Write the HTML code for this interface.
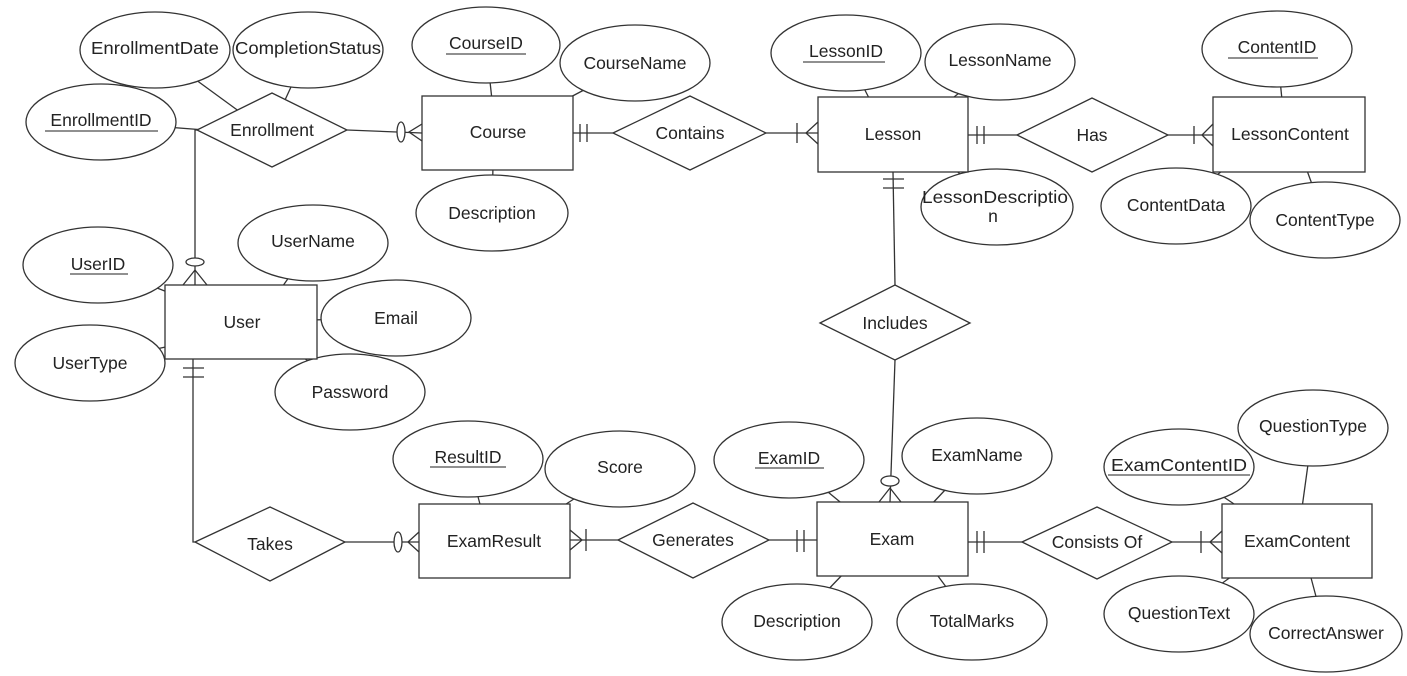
<!DOCTYPE html>
<html><head><meta charset="utf-8"><style>
html,body{margin:0;padding:0;background:#fff;width:1407px;height:676px;overflow:hidden}
svg{display:block}
text{font-family:"Liberation Sans",Arial,sans-serif;font-size:17.5px;fill:#222;text-anchor:middle;dominant-baseline:central}
</style></head><body>
<svg width="1407" height="676" viewBox="0 0 1407 676" xmlns="http://www.w3.org/2000/svg">
<g stroke="#333" stroke-width="1.3" fill="none">
<line x1="155" y1="50" x2="240" y2="112"/>
<line x1="308" y1="50" x2="285" y2="100"/>
<line x1="101" y1="122" x2="205" y2="130"/>
<line x1="486" y1="45" x2="492" y2="100"/>
<line x1="635" y1="63" x2="565" y2="100"/>
<line x1="492" y1="213" x2="493" y2="165"/>
<line x1="846" y1="53" x2="870" y2="100"/>
<line x1="1000" y1="62" x2="950" y2="100"/>
<line x1="997" y1="207" x2="950" y2="165"/>
<line x1="1277" y1="49" x2="1282" y2="100"/>
<line x1="1176" y1="206" x2="1230" y2="165"/>
<line x1="1325" y1="220" x2="1305" y2="165"/>
<line x1="313" y1="243" x2="280" y2="290"/>
<line x1="98" y1="265" x2="175" y2="295"/>
<line x1="396" y1="318" x2="310" y2="320"/>
<line x1="90" y1="363" x2="175" y2="345"/>
<line x1="350" y1="392" x2="300" y2="355"/>
<line x1="468" y1="459" x2="481" y2="508"/>
<line x1="620" y1="469" x2="560" y2="508"/>
<line x1="789" y1="460" x2="845" y2="506"/>
<line x1="977" y1="456" x2="930" y2="506"/>
<line x1="1179" y1="467" x2="1240" y2="508"/>
<line x1="1313" y1="428" x2="1302" y2="508"/>
<line x1="797" y1="622" x2="845" y2="572"/>
<line x1="972" y1="622" x2="935" y2="572"/>
<line x1="1179" y1="614" x2="1235" y2="574"/>
<line x1="1326" y1="634" x2="1310" y2="574"/>
<line x1="347" y1="130" x2="422" y2="133"/>
<polyline points="197,130 195,130 195,285"/>
<line x1="573" y1="133" x2="613" y2="133"/>
<line x1="766" y1="133" x2="818" y2="133"/>
<line x1="968" y1="135" x2="1017" y2="135"/>
<line x1="1168" y1="135" x2="1213" y2="135"/>
<line x1="893" y1="172" x2="895" y2="285"/>
<line x1="895" y1="360" x2="890" y2="502"/>
<polyline points="193,359 193,542 195,542"/>
<line x1="345" y1="542" x2="419" y2="542"/>
<line x1="570" y1="540" x2="618" y2="540"/>
<line x1="769" y1="540" x2="817" y2="540"/>
<line x1="968" y1="542" x2="1022" y2="542"/>
<line x1="1172" y1="542" x2="1222" y2="542"/>
<ellipse cx="401" cy="132" rx="4" ry="10" fill="#fff"/>
<polyline points="422,124 409,132 422,141"/>
<ellipse cx="195" cy="262" rx="9" ry="4" fill="#fff"/>
<polyline points="183,285 195,270 207,285"/>
<line x1="580" y1="124" x2="580" y2="142"/><line x1="587" y1="124" x2="587" y2="142"/>
<line x1="797" y1="123" x2="797" y2="143"/>
<polyline points="818,122 806,133 818,144"/>
<line x1="977" y1="126" x2="977" y2="144"/><line x1="984" y1="126" x2="984" y2="144"/>
<line x1="1194" y1="126" x2="1194" y2="144"/>
<polyline points="1213,124 1202,135 1213,146"/>
<line x1="883" y1="179" x2="904" y2="179"/><line x1="883" y1="188" x2="904" y2="188"/>
<ellipse cx="890" cy="481" rx="9" ry="5" fill="#fff"/>
<polyline points="879,502 890,488 901,502"/>
<line x1="183" y1="368" x2="204" y2="368"/><line x1="183" y1="377" x2="204" y2="377"/>
<ellipse cx="398" cy="542" rx="4" ry="10" fill="#fff"/>
<polyline points="419,532 408,542 419,552"/>
<polyline points="570,530 582,540 570,550"/>
<line x1="586" y1="529" x2="586" y2="551"/>
<line x1="797" y1="530" x2="797" y2="552"/><line x1="804" y1="530" x2="804" y2="552"/>
<line x1="977" y1="531" x2="977" y2="553"/><line x1="984" y1="531" x2="984" y2="553"/>
<line x1="1201" y1="531" x2="1201" y2="553"/>
<polyline points="1222,531 1210,542 1222,553"/>
</g>
<g stroke="#333" stroke-width="1.3" fill="#fff">
<ellipse cx="155" cy="50" rx="75" ry="38"/>
<ellipse cx="308" cy="50" rx="75" ry="38"/>
<ellipse cx="101" cy="122" rx="75" ry="38"/>
<ellipse cx="486" cy="45" rx="74" ry="38"/>
<ellipse cx="635" cy="63" rx="75" ry="38"/>
<ellipse cx="492" cy="213" rx="76" ry="38"/>
<ellipse cx="846" cy="53" rx="75" ry="38"/>
<ellipse cx="1000" cy="62" rx="75" ry="38"/>
<ellipse cx="997" cy="207" rx="76" ry="38"/>
<ellipse cx="1277" cy="49" rx="75" ry="38"/>
<ellipse cx="1176" cy="206" rx="75" ry="38"/>
<ellipse cx="1325" cy="220" rx="75" ry="38"/>
<ellipse cx="313" cy="243" rx="75" ry="38"/>
<ellipse cx="98" cy="265" rx="75" ry="38"/>
<ellipse cx="396" cy="318" rx="75" ry="38"/>
<ellipse cx="90" cy="363" rx="75" ry="38"/>
<ellipse cx="350" cy="392" rx="75" ry="38"/>
<ellipse cx="468" cy="459" rx="75" ry="38"/>
<ellipse cx="620" cy="469" rx="75" ry="38"/>
<ellipse cx="789" cy="460" rx="75" ry="38"/>
<ellipse cx="977" cy="456" rx="75" ry="38"/>
<ellipse cx="1179" cy="467" rx="75" ry="38"/>
<ellipse cx="1313" cy="428" rx="75" ry="38"/>
<ellipse cx="797" cy="622" rx="75" ry="38"/>
<ellipse cx="972" cy="622" rx="75" ry="38"/>
<ellipse cx="1179" cy="614" rx="75" ry="38"/>
<ellipse cx="1326" cy="634" rx="76" ry="38"/>
<rect x="422" y="96" width="151" height="74"/>
<rect x="818" y="97" width="150" height="75"/>
<rect x="1213" y="97" width="152" height="75"/>
<rect x="165" y="285" width="152" height="74"/>
<rect x="419" y="504" width="151" height="74"/>
<rect x="817" y="502" width="151" height="74"/>
<rect x="1222" y="504" width="150" height="74"/>
<polygon points="197,130 272,93 347,130 272,167"/>
<polygon points="613,133 690,96 766,133 690,170"/>
<polygon points="1017,135 1092,98 1168,135 1092,172"/>
<polygon points="820,323 895,285 970,323 895,360"/>
<polygon points="195,542 270,507 345,542 270,581"/>
<polygon points="618,540 693,503 769,540 693,578"/>
<polygon points="1022,542 1097,507 1172,542 1097,579"/>
</g>
<g>
<text x="155" y="48" textLength="128" lengthAdjust="spacingAndGlyphs">EnrollmentDate</text>
<text x="308" y="48" textLength="146" lengthAdjust="spacingAndGlyphs">CompletionStatus</text>
<text x="101" y="120">EnrollmentID</text>
<text x="486" y="43">CourseID</text>
<text x="635" y="63">CourseName</text>
<text x="492" y="213">Description</text>
<text x="846" y="51">LessonID</text>
<text x="1000" y="60">LessonName</text>
<text x="995" y="197" textLength="146" lengthAdjust="spacingAndGlyphs">LessonDescriptio</text>
<text x="993" y="216">n</text>
<text x="1277" y="47">ContentID</text>
<text x="1176" y="205">ContentData</text>
<text x="1325" y="220">ContentType</text>
<text x="313" y="241">UserName</text>
<text x="98" y="264">UserID</text>
<text x="396" y="318">Email</text>
<text x="90" y="363">UserType</text>
<text x="350" y="392">Password</text>
<text x="468" y="457">ResultID</text>
<text x="620" y="467">Score</text>
<text x="789" y="458">ExamID</text>
<text x="977" y="455">ExamName</text>
<text x="1179" y="465" textLength="136" lengthAdjust="spacingAndGlyphs">ExamContentID</text>
<text x="1313" y="426">QuestionType</text>
<text x="797" y="621">Description</text>
<text x="972" y="621">TotalMarks</text>
<text x="1179" y="613">QuestionText</text>
<text x="1326" y="633">CorrectAnswer</text>
<text x="498" y="132">Course</text>
<text x="893" y="134">Lesson</text>
<text x="1290" y="134">LessonContent</text>
<text x="242" y="322">User</text>
<text x="494" y="541">ExamResult</text>
<text x="892" y="539">Exam</text>
<text x="1297" y="541">ExamContent</text>
<text x="272" y="130">Enrollment</text>
<text x="690" y="133">Contains</text>
<text x="1092" y="135">Has</text>
<text x="895" y="323">Includes</text>
<text x="270" y="544">Takes</text>
<text x="693" y="540">Generates</text>
<text x="1097" y="542">Consists Of</text>
</g>
<g stroke="#222" stroke-width="1">
<line x1="45" y1="131" x2="158" y2="131"/>
<line x1="446" y1="54" x2="526" y2="54"/>
<line x1="803" y1="62" x2="885" y2="62"/>
<line x1="1228" y1="58" x2="1318" y2="58"/>
<line x1="70" y1="274" x2="128" y2="274"/>
<line x1="430" y1="467" x2="506" y2="467"/>
<line x1="755" y1="468" x2="824" y2="468"/>
<line x1="1108" y1="475" x2="1250" y2="475"/>
</g>
</svg>
</body></html>
